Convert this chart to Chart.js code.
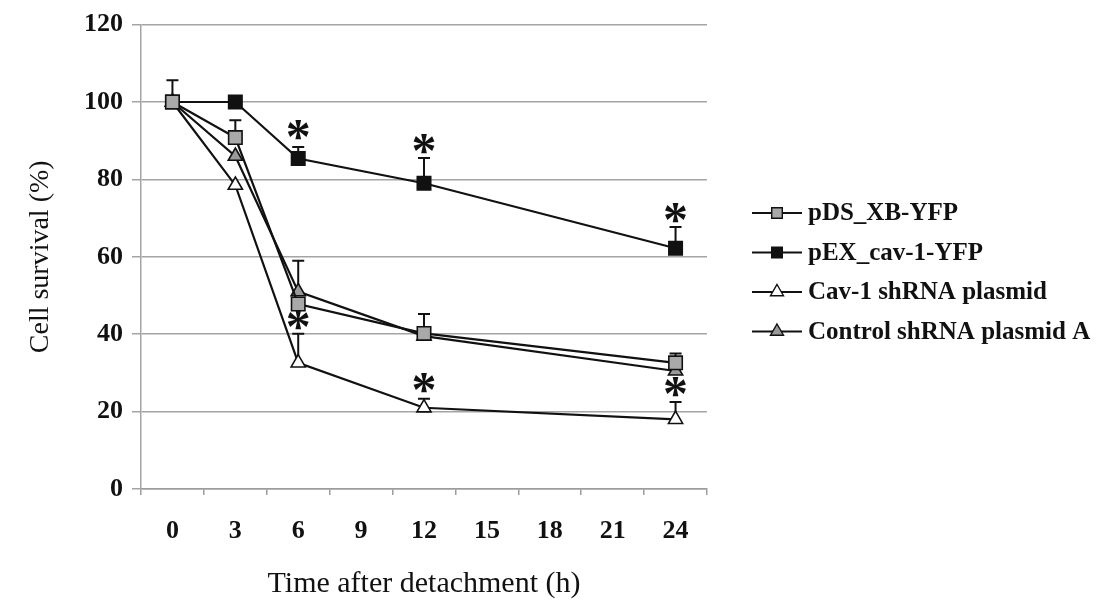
<!DOCTYPE html>
<html>
<head>
<meta charset="utf-8">
<script src="https://cdn.jsdelivr.net/npm/chart.js@4.4.1/dist/chart.umd.min.js"></script>
<style>
  html, body { margin: 0; padding: 0; background: #fff; }
  #wrap { width: 1111px; height: 607px; }
</style>
</head>
<body>
<div id="wrap"><canvas id="survivalChart"></canvas></div>
<script>
// Cell survival after detachment
const categories = ["0", "3", "6", "9", "12", "15", "18", "21", "24"]
const hours = [0, 3, 6, 12, 24]

const pdsValues = [100, 90.8, 47.8, 40.2, 32.6]
const pdsErr = [0, 4.5, 0, 5, 2.4]
const pexValues = [100, 100, 85.4, 79, 62.2]
const pexErr = [0, 0, 3, 6.5, 5.5]
const cavValues = [100, 78.5, 32.6, 21, 18]
const cavErr = [0, 0, 7.5, 2.3, 4.5]
const ctrlValues = [100, 86, 51, 39.5, 30.5]
const ctrlErr = [5.6, 0, 8, 0, 0]

// significance asterisks
const starHours = [6, 12, 24, 6, 12, 24]
const starValues = [92.8, 89.2, 71.3, 43.6, 27.4, 26.4]

const yTicks = [0, 20, 40, 60, 80, 100, 120]

const SERIF = "'Liberation Serif', 'DejaVu Serif', serif"

function toPoints(values) {
  return hours.map((h, i) => ({ x: String(h), y: values[i] }))
}

function makeSeries(label, values, err, style, fill) {
  return {
    label: label,
    data: toPoints(values),
    errors: err,
    borderColor: "#111",
    borderWidth: 2.2,
    pointStyle: style,
    pointRadius: style === "rect" ? 9.5 : 8.2,
    pointBackgroundColor: fill,
    pointBorderColor: "#111",
    pointBorderWidth: 1.6,
    tension: 0,
    spanGaps: true,
  }
}

// vertical upper error bars with a cap
const errorBars = {
  id: "errorBars",
  beforeDatasetsDraw(chart) {
    const ctx = chart.ctx
    const y = chart.scales.y
    ctx.save()
    ctx.strokeStyle = "#111"
    ctx.lineWidth = 2
    chart.data.datasets.forEach((ds, di) => {
      const meta = chart.getDatasetMeta(di)
      meta.data.forEach((pt, i) => {
        const e = ds.errors[i]
        if (!e) return
        const top = y.getPixelForValue(ds.data[i].y + e)
        ctx.beginPath()
        ctx.moveTo(pt.x, pt.y)
        ctx.lineTo(pt.x, top)
        ctx.moveTo(pt.x - 6, top)
        ctx.lineTo(pt.x + 6, top)
        ctx.stroke()
      })
    })
    ctx.restore()
  },
}

const asterisks = {
  id: "asterisks",
  afterDatasetsDraw(chart) {
    const ctx = chart.ctx
    const { x, y } = chart.scales
    ctx.save()
    ctx.fillStyle = "#111"
    ctx.font = "bold 50px " + SERIF
    ctx.textAlign = "center"
    ctx.textBaseline = "alphabetic"
    starHours.forEach((h, i) => {
      const px = x.getPixelForValue(categories.indexOf(String(h)))
      const py = y.getPixelForValue(starValues[i])
      ctx.fillText("*", px, py + 23)
    })
    ctx.restore()
  },
}

function drawMarker(ctx, style, cx, cy, r, fill) {
  ctx.beginPath()
  if (style === "rect") {
    const s = Math.SQRT1_2 * r
    ctx.rect(cx - s, cy - s, 2 * s, 2 * s)
  } else {
    ctx.moveTo(cx, cy - r)
    ctx.lineTo(cx + r * Math.sin(2 * Math.PI / 3), cy + r * 0.5)
    ctx.lineTo(cx - r * Math.sin(2 * Math.PI / 3), cy + r * 0.5)
    ctx.closePath()
  }
  ctx.fillStyle = fill
  ctx.fill()
  ctx.stroke()
}

// legend: line sample with marker, like the spreadsheet legend
const lineLegend = {
  id: "lineLegend",
  afterDraw(chart) {
    const ctx = chart.ctx
    const area = chart.chartArea
    const x0 = area.right + 45
    ctx.save()
    ctx.font = "bold 25px " + SERIF
    ctx.textBaseline = "middle"
    chart.data.datasets.forEach((ds, i) => {
      const cy = 213 + i * 39.5
      ctx.strokeStyle = "#111"
      ctx.lineWidth = 2.2
      ctx.beginPath()
      ctx.moveTo(x0, cy)
      ctx.lineTo(x0 + 50, cy)
      ctx.stroke()
      ctx.lineWidth = 1.4
      drawMarker(ctx, ds.pointStyle, x0 + 25, cy, 7.5, ds.pointBackgroundColor)
      ctx.fillStyle = "#111"
      ctx.fillText(ds.label, x0 + 56, cy + 1)
    })
    ctx.restore()
  },
}

new Chart(document.getElementById("survivalChart"), {
  type: "line",
  data: {
    labels: categories,
    datasets: [
      makeSeries("pDS_XB-YFP", pdsValues, pdsErr, "rect", "#a9a9a9"),
      makeSeries("pEX_cav-1-YFP", pexValues, pexErr, "rect", "#111"),
      makeSeries("Cav-1 shRNA plasmid", cavValues, cavErr, "triangle", "#ffffff"),
      makeSeries("Control shRNA plasmid A", ctrlValues, ctrlErr, "triangle", "#9a9a9a"),
    ],
  },
  options: {
    responsive: true,
    maintainAspectRatio: false,
    animation: false,
    layout: { padding: { top: 22, right: 404, left: 0, bottom: 0 } },
    plugins: {
      legend: { display: false },
      tooltip: { enabled: false },
    },
    scales: {
      x: {
        type: "category",
        offset: true,
        afterFit: (scale) => { scale.height = 118 },
        grid: {
          offset: true,
          drawOnChartArea: false,
          drawTicks: true,
          tickLength: 6,
          color: "#9c9c9c",
          lineWidth: 1.5,
        },
        border: { display: true, color: "#9c9c9c", width: 1.5 },
        ticks: {
          color: "#111",
          padding: 21,
          maxRotation: 0,
          font: { family: SERIF, size: 26, weight: "bold" },
        },
        title: {
          display: true,
          text: "Time after detachment (h)",
          color: "#111",
          padding: { top: 0, bottom: 5 },
          font: { family: SERIF, size: 30 },
        },
      },
      y: {
        min: 0,
        max: 120,
        afterFit: (scale) => { scale.width = 141 },
        afterBuildTicks: (scale) => { scale.ticks = yTicks.map((v) => ({ value: v })) },
        grid: {
          color: "#a4a4a4",
          lineWidth: 1.5,
          tickLength: 9,
        },
        border: { display: true, color: "#a4a4a4", width: 1.5 },
        ticks: {
          color: "#111",
          padding: 9,
          font: { family: SERIF, size: 26, weight: "bold" },
        },
        title: {
          display: true,
          text: "Cell survival (%)",
          color: "#111",
          padding: { top: 24, bottom: 0 },
          font: { family: SERIF, size: 28 },
        },
      },
    },
  },
  plugins: [errorBars, asterisks, lineLegend],
})
</script>
</body>
</html>
